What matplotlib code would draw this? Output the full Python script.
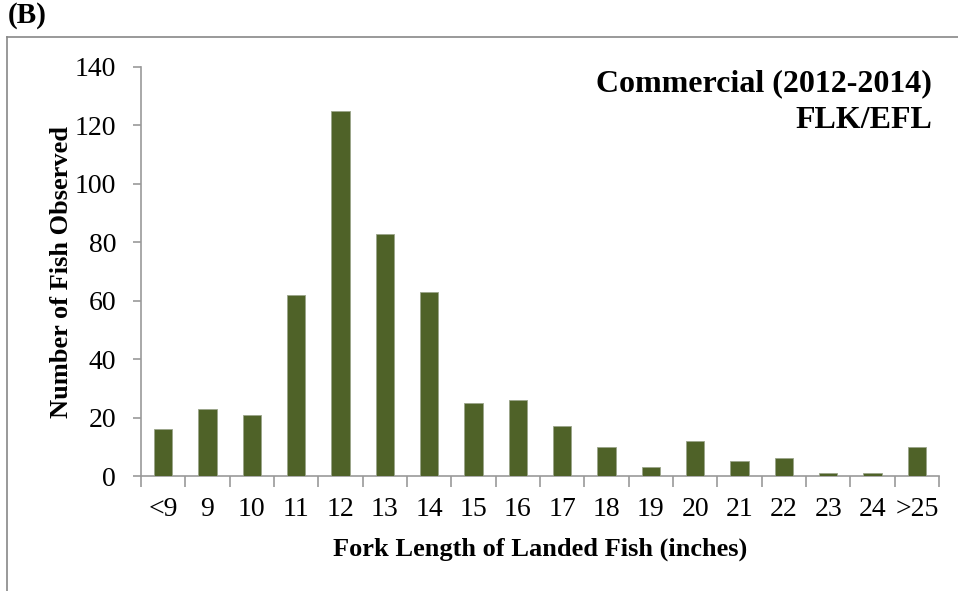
import matplotlib
matplotlib.use("Agg")
import matplotlib.pyplot as plt
from matplotlib.lines import Line2D
import numpy as np

categories = ["<9", "9", "10", "11", "12", "13", "14", "15", "16", "17",
              "18", "19", "20", "21", "22", "23", "24", ">25"]
counts = [16, 23, 21, 62, 125, 83, 63, 25, 26, 17, 10, 3, 12, 5, 6, 1, 1, 10]
y_ticks = [0, 20, 40, 60, 80, 100, 120, 140]

plt.rcParams['font.family'] = ['Liberation Serif', 'DejaVu Serif']

fig = plt.figure(figsize=(9.58, 5.91), dpi=100)
ax = fig.add_axes([141/958, 1-476/591, (939-141)/958, (476-67)/591])

x = np.arange(len(categories))
ax.bar(x, counts, width=0.41, color='#4F6228', edgecolor='#9BA58A', linewidth=0.6, zorder=3)

ax.set_xlim(-0.5, len(categories)-0.5)
ax.set_ylim(0, 140)
ax.set_yticks(y_ticks)
ax.set_yticklabels([str(v) for v in y_ticks], fontsize=20)
ax.set_xticks(x)
ax.set_xticklabels(categories, fontsize=20)
ax.tick_params(axis='x', length=0, pad=15)
ax.set_xticks(np.arange(-0.5, len(categories)), minor=True)
ax.tick_params(axis='x', which='minor', length=8, color='#999999', width=1.2)
ax.tick_params(axis='y', length=6, color='#999999', width=1.2, pad=12)

for s in ['top', 'right']:
    ax.spines[s].set_visible(False)
for s in ['left', 'bottom']:
    ax.spines[s].set_color('#999999')
    ax.spines[s].set_linewidth(1.2)

ax.set_xlabel("Fork Length of Landed Fish (inches)", fontsize=19, fontweight='bold', labelpad=11)
ax.set_ylabel("Number of Fish Observed", fontsize=19, fontweight='bold', labelpad=1)

ax.text((932-141)/798, 0.995, "Commercial (2012-2014)\nFLK/EFL", transform=ax.transAxes,
        ha='right', va='top', fontsize=23, fontweight='bold', linespacing=1.36)

fig.text(8/958, 1-2/591, "(B)", ha='left', va='top', fontsize=21, fontweight='bold')

fig.add_artist(Line2D([7/958, 7/958], [0, 1-37/591], transform=fig.transFigure,
                      color='#888888', linewidth=1.2))
fig.add_artist(Line2D([7/958, 1], [1-37/591, 1-37/591], transform=fig.transFigure,
                      color='#888888', linewidth=1.2))

fig.savefig("out.png", dpi=100)
